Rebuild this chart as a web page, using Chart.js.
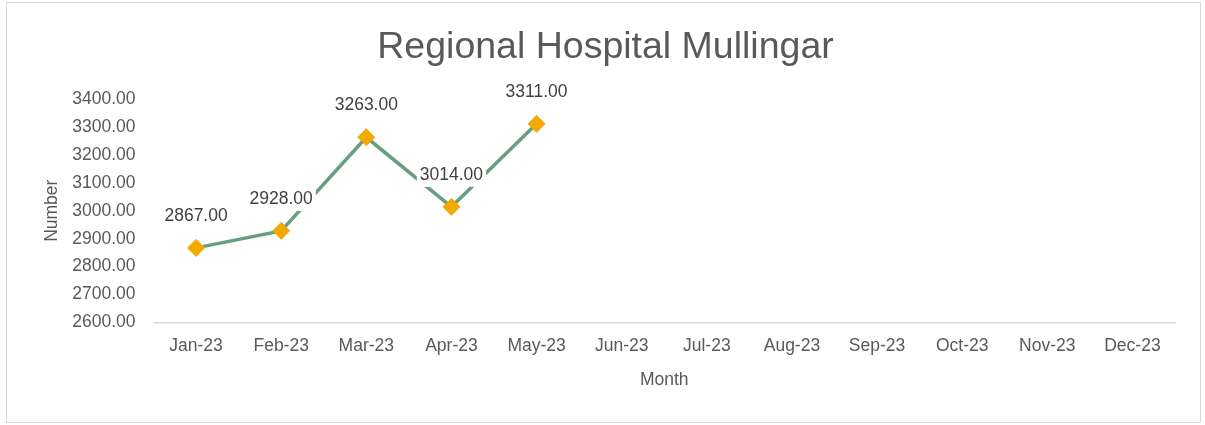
<!DOCTYPE html>
<html>
<head>
<meta charset="utf-8">
<script src="https://cdn.jsdelivr.net/npm/chart.js@4"></script>
<style>
  html, body { margin: 0; padding: 0; background: #fff; }
  #wrap { position: relative; width: 1205px; height: 425px; }
  #frame { position: absolute; left: 6px; top: 2px; width: 1195px; height: 421px;
           box-sizing: border-box; border: 1px solid #d9d9d9; pointer-events: none; }
</style>
</head>
<body>
<div id="wrap">
  <canvas id="hospitalChart" width="1205" height="425"></canvas>
  <div id="frame"></div>
</div>
<script>
// Chart data
const months = ['Jan-23', 'Feb-23', 'Mar-23', 'Apr-23', 'May-23', 'Jun-23',
                'Jul-23', 'Aug-23', 'Sep-23', 'Oct-23', 'Nov-23', 'Dec-23'];
const numbers = [2867, 2928, 3263, 3014, 3311, null, null, null, null, null, null, null];

const fontFamily = '"Liberation Sans", Arial, sans-serif';
const textGrey = '#595959';

// Excel-style data labels with white background above each point
const valueLabels = {
    id: 'valueLabels',
    afterDatasetsDraw(chart) {
        const ctx = chart.ctx;
        const meta = chart.getDatasetMeta(0);
        ctx.save();
        ctx.font = '17.5px ' + fontFamily;
        ctx.textAlign = 'center';
        ctx.textBaseline = 'middle';
        meta.data.forEach((pt, i) => {
            const v = numbers[i];
            if (v === null || v === undefined) return;
            const txt = v.toFixed(2);
            const w = ctx.measureText(txt).width;
            const y = pt.y - 32;
            ctx.fillStyle = '#ffffff';
            ctx.fillRect(pt.x - w / 2 - 3, y - 12, w + 6, 24);
            ctx.fillStyle = '#404040';
            ctx.fillText(txt, pt.x, y);
        });
        ctx.restore();
    }
};

const ctx = document.getElementById('hospitalChart').getContext('2d');

new Chart(ctx, {
    type: 'line',
    data: {
        labels: months,
        datasets: [{
            label: 'Number',
            data: numbers,
            borderColor: '#6a9e80',
            borderWidth: 3.5,
            pointStyle: 'rectRot',
            pointRadius: 8.5,
            pointBackgroundColor: '#f2a900',
            pointBorderColor: '#f2a900',
            pointBorderWidth: 1,
            fill: false,
            tension: 0,
            clip: false
        }]
    },
    options: {
        responsive: false,
        animation: false,
        layout: { padding: { left: 36, right: 30, top: 0, bottom: 30 } },
        plugins: {
            legend: { display: false },
            tooltip: { enabled: false },
            title: {
                display: true,
                text: 'Regional Hospital Mullingar',
                color: textGrey,
                font: { family: fontFamily, size: 37.5, weight: 'normal' },
                padding: { top: 25, bottom: 29 }
            }
        },
        scales: {
            x: {
                offset: true,
                grid: { display: false, drawTicks: false },
                border: { display: true, color: '#d9d9d9', width: 1.5 },
                ticks: {
                    color: textGrey,
                    font: { family: fontFamily, size: 17.5, lineHeight: 1.0 },
                    padding: 15,
                    maxRotation: 0,
                    autoSkip: false
                },
                title: {
                    display: true,
                    text: 'Month',
                    color: textGrey,
                    font: { family: fontFamily, size: 17.5 },
                    padding: { top: 0, bottom: 4 }
                }
            },
            y: {
                min: 2600,
                max: 3400,
                grid: { display: false, drawTicks: false },
                border: { display: false },
                afterFit: scale => { scale.width = 117.5; },
                ticks: {
                    stepSize: 100,
                    color: textGrey,
                    font: { family: fontFamily, size: 17.5 },
                    padding: 18,
                    callback: v => v.toFixed(2)
                },
                title: {
                    display: true,
                    text: 'Number',
                    color: textGrey,
                    font: { family: fontFamily, size: 17.5 },
                    padding: { top: 6, bottom: 0 }
                }
            }
        }
    },
    plugins: [valueLabels]
});
</script>
</body>
</html>
